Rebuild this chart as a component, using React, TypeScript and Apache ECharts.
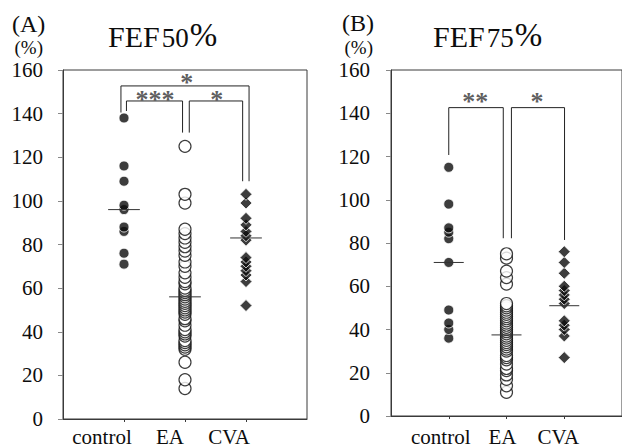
import React, { useEffect, useRef } from 'react';
import * as echarts from 'echarts';

// ---------- data ----------
const categories = ['control', 'EA', 'CVA'];
const categoryX = [1, 2, 3];

// Panel A: FEF50%
const fef50Control = [138, 116, 109, 98, 96, 88, 86, 76, 71];
const fef50EA = [125, 103, 99, 87, 85, 83, 81, 79, 77, 75, 72, 70, 67, 65, 63, 62, 60, 59, 58, 57, 56, 55, 54, 53, 52, 51, 50, 49, 48, 46, 45, 43, 41, 40, 39, 38, 36, 35, 34, 33, 32, 26, 18, 14];
const fef50CVA = [103, 99, 92, 89, 86, 84, 82, 74, 72, 70, 68, 66, 63, 52];
const fef50Median = [96, 56, 83];

// Panel B: FEF75%
const fef75Control = [115, 98, 87, 85, 82, 71, 49, 43, 40, 36];
const fef75EA = [75, 73, 67, 64, 61, 52, 51, 50, 49, 48, 47, 46, 45, 44, 43, 42, 41, 40, 39, 38, 37, 36, 35, 34, 33, 32, 31, 30, 28, 27, 26, 24, 22, 21, 19, 17, 14, 11];
const fef75CVA = [76, 71, 66, 60, 58, 56, 54, 52, 44, 42, 40, 37, 27];
const fef75Median = [71, 37.5, 51];

// significance brackets: [fromX, toX, top, fromEnd, toEnd]
const fef50Brackets = [
  [0.95, 3.05, 152.7, 140.5, 109],
  [1.04, 1.96, 145.8, 141.2, 131.3],
  [2.07, 2.945, 145.8, 131.3, 109],
];
const fef50Stars = ['*', '***', '*'];
const fef50StarPos = [[2.03, 157], [1.51, 149], [2.52, 149]];

const fef75Brackets = [
  [1.0, 1.944, 142.6, 120.7, 82.2],
  [2.085, 3.005, 142.6, 82.2, 81.4],
];
const fef75Stars = ['**', '*'];
const fef75StarPos = [[1.46, 148], [2.53, 148]];

// ---------- styling ----------
const SERIF = 'Liberation Serif';
const INK = '#0d0d0d';
const FRAME = '#3a3a3a';

function scatterSeries(gi: number, x: number, values: number[], kind: number) {
  const data = [...values].sort((a, b) => a - b).map((v) => [x, v]);
  const styles = [
    { symbol: 'circle', symbolSize: 10, itemStyle: { color: INK, borderColor: '#fff', borderWidth: 1 } },
    { symbol: 'circle', symbolSize: 12, itemStyle: { color: '#fff', borderColor: INK, borderWidth: 1.2 } },
    { symbol: 'diamond', symbolSize: 12, itemStyle: { color: INK, borderColor: '#fff', borderWidth: 1 } },
  ][kind];
  return {
    type: 'scatter',
    xAxisIndex: gi,
    yAxisIndex: gi,
    data,
    ...styles,
    z: 2,
    silent: true,
  };
}

function medianSeries(gi: number, medians: number[]) {
  return medians.map((m, i) => ({
    type: 'line',
    xAxisIndex: gi,
    yAxisIndex: gi,
    data: [[categoryX[i] - 0.26, m], [categoryX[i] + 0.26, m]],
    symbol: 'none',
    lineStyle: { color: '#333', width: 1 },
    z: 4,
    silent: true,
  }));
}

function bracketSeries(gi: number, brackets: number[][]) {
  return brackets.map(([a, b, top, ea, eb]) => ({
    type: 'line',
    xAxisIndex: gi,
    yAxisIndex: gi,
    data: [[a, ea], [a, top], [b, top], [b, eb]],
    symbol: 'none',
    lineStyle: { color: '#222', width: 1 },
    z: 3,
    silent: true,
  }));
}

function starSeries(gi: number, stars: string[], pos: number[][]) {
  return stars.map((s, i) => ({
    type: 'scatter',
    xAxisIndex: gi,
    yAxisIndex: gi,
    data: [pos[i]],
    symbolSize: 1,
    itemStyle: { color: 'rgba(0,0,0,0)' },
    label: {
      show: true,
      position: 'inside',
      formatter: s,
      fontSize: 26,
      fontWeight: 'bold',
      fontFamily: SERIF,
      color: '#333',
      offset: [0, 6],
    },
    z: 5,
    silent: true,
  }));
}

function xAxis(gi: number, shifts: number[], margin: number) {
  const rich: any = {};
  shifts.forEach((s, i) => {
    rich['c' + i] = { fontSize: 21, fontFamily: SERIF, color: INK, padding: [0, s * 2, 0, 0] };
  });
  return {
    gridIndex: gi,
    type: 'value',
    min: 0,
    max: 4,
    interval: 1,
    axisLine: { show: true, lineStyle: { color: FRAME, width: 1 } },
    axisTick: { show: true, customValues: categoryX, length: 3, lineStyle: { color: FRAME } },
    axisLabel: {
      customValues: categoryX,
      margin,
      fontSize: 21,
      fontFamily: SERIF,
      color: INK,
      formatter: (v: number) => {
        const i = categoryX.indexOf(v);
        return i >= 0 ? `{c${i}|${categories[i]}}` : '';
      },
      rich,
    },
    splitLine: { show: false },
  };
}

function yAxis(gi: number, margin: number) {
  return {
    gridIndex: gi,
    type: 'value',
    min: 0,
    max: 160,
    interval: 20,
    axisLine: { show: true, lineStyle: { color: FRAME, width: 1 } },
    axisTick: { show: true, length: 5, lineStyle: { color: '#888' } },
    axisLabel: { fontSize: 21, fontFamily: SERIF, color: INK, margin },
    splitLine: { show: false },
  };
}

function txt(x: number, y: number, text: string, size: number, align = 'left', rich?: any) {
  return {
    type: 'text',
    x,
    y,
    silent: true,
    style: {
      text,
      fontSize: size,
      fontFamily: SERIF,
      fill: INK,
      align,
      textAlign: align,
      verticalAlign: 'middle',
      textVerticalAlign: 'middle',
      rich,
    },
  };
}

const titleRich = {
  a: { fontSize: 30, fontFamily: SERIF, color: INK, verticalAlign: 'bottom', lineHeight: 34 },
  b: { fontSize: 27, fontFamily: SERIF, color: INK, verticalAlign: 'bottom', lineHeight: 34, padding: [0, 1, 0, 2] },
  c: { fontSize: 33, fontFamily: SERIF, color: INK, verticalAlign: 'bottom', lineHeight: 34 },
};

export default function App() {
  const ref = useRef<HTMLDivElement>(null);
  useEffect(() => {
    if (!ref.current) return;
    const chart = echarts.init(ref.current, null, { renderer: 'svg' });
    const option: any = {
      animation: false,
      backgroundColor: '#fff',
      textStyle: { fontFamily: SERIF },
      grid: [
        { left: 63, top: 70, width: 244, height: 349, show: true, borderColor: FRAME, borderWidth: 1, backgroundColor: 'transparent' },
        { left: 391, top: 70, width: 236, height: 346, show: true, borderColor: FRAME, borderWidth: 1, backgroundColor: 'transparent' },
      ],
      xAxis: [xAxis(0, [22, 15, 17], 7), xAxis(1, [8, 4, 6], 10)],
      yAxis: [yAxis(0, 20), yAxis(1, 21)],
      series: [
        scatterSeries(0, categoryX[0], fef50Control, 0),
        scatterSeries(0, categoryX[1], fef50EA, 1),
        scatterSeries(0, categoryX[2], fef50CVA, 2),
        ...medianSeries(0, fef50Median),
        ...bracketSeries(0, fef50Brackets),
        ...starSeries(0, fef50Stars, fef50StarPos),
        scatterSeries(1, categoryX[0], fef75Control, 0),
        scatterSeries(1, categoryX[1], fef75EA, 1),
        scatterSeries(1, categoryX[2], fef75CVA, 2),
        ...medianSeries(1, fef75Median),
        ...bracketSeries(1, fef75Brackets),
        ...starSeries(1, fef75Stars, fef75StarPos),
      ],
      graphic: [
        txt(12, 24, '(A)', 24),
        txt(43, 47, '(%)', 19, 'right'),
        txt(342, 23, '(B)', 24),
        txt(373, 47, '(%)', 19, 'right'),
        txt(108, 34, '{a|FEF}{b|50}{c|%}', 30, 'left', titleRich),
        txt(433, 34, '{a|FEF}{b|75}{c|%}', 30, 'left', titleRich),
      ],
    };
    chart.setOption(option);
    return () => chart.dispose();
  }, []);
  return <div ref={ref} style={{ position: 'fixed', left: 0, top: 0, width: 622, height: 448 }} />;
}
